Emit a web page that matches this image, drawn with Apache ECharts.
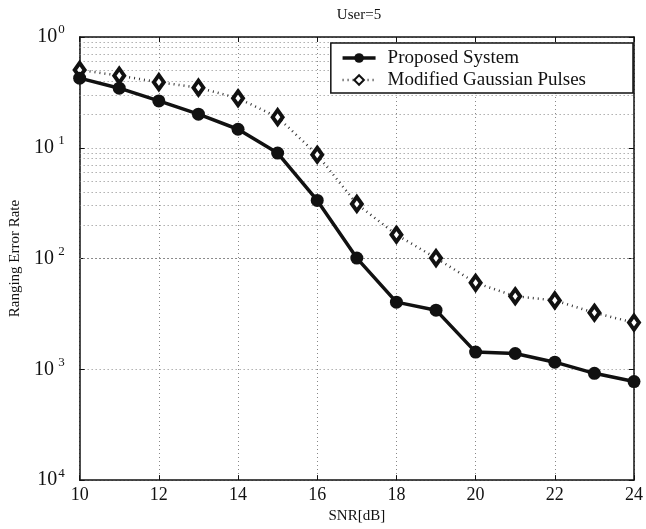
<!DOCTYPE html>
<html>
  <head>
    <meta charset="utf-8" />
    <title>User=5</title>
    <script src="https://cdn.jsdelivr.net/npm/echarts@6/dist/echarts.min.js"></script>
  </head>
  <body style="margin: 0; background: #fff">
    <div id="main" style="width: 646px; height: 529px"></div>
    <script type="text/javascript">
      // data
      const snr = [10, 11, 12, 13, 14, 15, 16, 17, 18, 19, 20, 21, 22, 23, 24];
      const proposed = [0.425, 0.345, 0.265, 0.201, 0.147, 0.0896, 0.0335, 0.0101, 0.00404, 0.00342, 0.00143, 0.00139, 0.00116, 0.00092, 0.000775];
      const gaussian = [0.504, 0.448, 0.391, 0.349, 0.28, 0.189, 0.0865, 0.0311, 0.0164, 0.0101, 0.00604, 0.00457, 0.00419, 0.00324, 0.00264];
      const decades = [-4, -3, -2, -1];
      const minorSteps = [2, 3, 4, 5, 6, 7, 8, 9];

      var chartDom = document.getElementById('main');
      var myChart = echarts.init(chartDom);
      var font = 'Liberation Serif';

      // dotted minor grid lines (2..9 in every decade)
      var minorLines = [];
      decades.forEach(function (d) {
        minorSteps.forEach(function (k) {
          minorLines.push({ yAxis: k * Math.pow(10, d) });
        });
      });

      var gridLine = { show: true, lineStyle: { color: '#888', type: [1, 3], width: 1 } };

      var option = {
        animation: false,
        backgroundColor: '#fff',
        title: {
          text: 'User=5',
          left: 354,
          top: 3,
          textAlign: 'center',
          textStyle: { fontFamily: font, fontSize: 15, fontWeight: 'normal', color: '#111' }
        },
        legend: {
          orient: 'vertical',
          right: 13,
          top: 43,
          backgroundColor: '#fff',
          borderColor: '#111',
          borderWidth: 1.5,
          borderRadius: 0,
          padding: [5, 47, 3, 10],
          itemWidth: 33,
          itemHeight: 12,
          itemGap: 2,
          textStyle: { fontFamily: font, fontSize: 19, lineHeight: 20, color: '#111', padding: [0, 0, 0, 7] },
          data: [
            { name: 'Proposed System', lineStyle: { width: 3.5 } },
            { name: 'Modified Gaussian Pulses', lineStyle: { width: 2.5 } }
          ]
        },
        grid: { left: 74, right: 12, top: 37, bottom: 48 },
        xAxis: [
          {
            type: 'value',
            min: 10,
            max: 24,
            interval: 2,
            name: 'SNR[dB]',
            nameLocation: 'middle',
            nameGap: 27,
            nameTextStyle: { fontFamily: font, fontSize: 15, color: '#111' },
            axisLine: { lineStyle: { color: '#111', width: 1.5 } },
            axisTick: { inside: true, length: 5, lineStyle: { color: '#111' } },
            axisLabel: { fontFamily: font, fontSize: 18, color: '#111', margin: 6 },
            splitLine: gridLine
          },
          {
            type: 'value',
            position: 'top',
            min: 10,
            max: 24,
            interval: 2,
            axisLine: { show: true, lineStyle: { color: '#111', width: 1.5 } },
            axisTick: { show: true, inside: true, length: 5, lineStyle: { color: '#111' } },
            axisLabel: { show: false },
            splitLine: { show: false }
          }
        ],
        yAxis: [
          {
            type: 'log',
            logBase: 10,
            min: 0.0001,
            max: 1,
            name: 'Ranging Error Rate',
            nameLocation: 'middle',
            nameGap: 55,
            nameTextStyle: { fontFamily: font, fontSize: 15, color: '#111' },
            axisLine: { show: true, lineStyle: { color: '#111', width: 1.5 } },
            axisTick: { show: true, inside: true, length: 5, lineStyle: { color: '#111' } },
            axisLabel: {
              margin: 15,
              formatter: function (v) {
                var e = Math.round(-Math.log10(v));
                var sup = e === 0 || e === 4 ? String(e) : ' ' + e;
                return '{b|10}{s|' + sup + '}';
              },
              rich: {
                b: { fontFamily: font, fontSize: 20, color: '#111' },
                s: { fontFamily: font, fontSize: 13, color: '#111', verticalAlign: 'top', padding: [0, 0, 14, 1] }
              }
            },
            splitLine: gridLine
          },
          {
            type: 'log',
            logBase: 10,
            min: 0.0001,
            max: 1,
            position: 'right',
            axisLine: { show: true, lineStyle: { color: '#111', width: 1.5 } },
            axisTick: { show: true, inside: true, length: 5, lineStyle: { color: '#111' } },
            axisLabel: { show: false },
            splitLine: { show: false }
          }
        ],
        series: [
          {
            name: 'Modified Gaussian Pulses',
            type: 'line',
            data: snr.map(function (x, i) { return [x, gaussian[i]]; }),
            symbol: 'diamond',
            symbolSize: [10, 14],
            itemStyle: { color: '#fff', borderColor: '#111', borderWidth: 4 },
            lineStyle: { color: '#333', width: 2.5, type: [1, 4] },
            z: 3,
            markLine: {
              silent: true,
              symbol: 'none',
              label: { show: false },
              lineStyle: { color: '#888', type: [1, 3], width: 1 },
              data: minorLines,
              z: 1
            }
          },
          {
            name: 'Proposed System',
            type: 'line',
            data: snr.map(function (x, i) { return [x, proposed[i]]; }),
            symbol: 'circle',
            symbolSize: 13,
            itemStyle: { color: '#111' },
            lineStyle: { color: '#111', width: 3.5 },
            z: 4
          }
        ]
      };

      option && myChart.setOption(option);
    </script>
  </body>
</html>
